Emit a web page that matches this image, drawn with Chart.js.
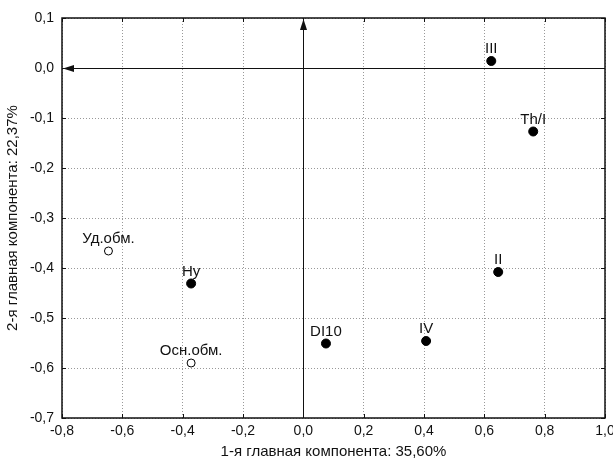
<!DOCTYPE html>
<html>
<head>
<meta charset="utf-8">
<script src="https://cdn.jsdelivr.net/npm/chart.js@4.4.1/dist/chart.umd.min.js"></script>
<style>
html, body { margin: 0; padding: 0; background: #fff; }
#wrap { width: 613px; height: 465px; position: relative; }
</style>
</head>
<body>
<div id="wrap"><canvas id="pcaChart"></canvas></div>
<script>
// component loadings, filled markers
var filledLabels = ['III', 'Th/I', 'II', 'Ну', 'DI10', 'IV'];
var filledX = [0.623, 0.762, 0.646, -0.372, 0.075, 0.407];
var filledY = [0.014, -0.127, -0.408, -0.431, -0.551, -0.546];

// hollow markers
var hollowLabels = ['Уд.обм.', 'Осн.обм.'];
var hollowX = [-0.646, -0.372];
var hollowY = [-0.366, -0.590];

var xTicks = [-0.8, -0.6, -0.4, -0.2, 0.0, 0.2, 0.4, 0.6, 0.8, 1.0];
var yTicks = [0.1, 0.0, -0.1, -0.2, -0.3, -0.4, -0.5, -0.6, -0.7];

var xTitle = '1-я главная компонента: 35,60%';
var yTitle = '2-я главная компонента: 22,37%';

var FONT = 'Arial, "Liberation Sans", sans-serif';

function toPoints(xs, ys, labels) {
    return xs.map(function (x, i) { return { x: x, y: ys[i], label: labels[i] }; });
}

function fmt(v) {
    return (Math.abs(v) < 1e-9 ? 0 : v).toFixed(1).replace('.', ',');
}

// frame, inner ticks and the two arrowed axes through zero
var axesPlugin = {
    id: 'axesPlugin',
    beforeDatasetsDraw: function (chart) {
        var ctx = chart.ctx, a = chart.chartArea;
        var xs = chart.scales.x, ys = chart.scales.y;
        ctx.save();
        ctx.strokeStyle = '#111';
        ctx.fillStyle = '#111';

        // small inward tick marks
        ctx.lineWidth = 1;
        ctx.beginPath();
        xTicks.forEach(function (v) {
            var px = Math.round(xs.getPixelForValue(v)) + 0.5;
            ctx.moveTo(px, a.top); ctx.lineTo(px, a.top + 4);
            ctx.moveTo(px, a.bottom); ctx.lineTo(px, a.bottom - 4);
        });
        yTicks.forEach(function (v) {
            var py = Math.round(ys.getPixelForValue(v)) + 0.5;
            ctx.moveTo(a.left, py); ctx.lineTo(a.left + 4, py);
            ctx.moveTo(a.right, py); ctx.lineTo(a.right - 4, py);
        });
        ctx.stroke();

        // horizontal axis, arrow pointing left
        var y0 = Math.round(ys.getPixelForValue(0)) + 0.5;
        var xl = xs.getPixelForValue(xs.min) + 1;
        ctx.beginPath();
        ctx.moveTo(a.right, y0);
        ctx.lineTo(xl + 6, y0);
        ctx.stroke();
        ctx.beginPath();
        ctx.moveTo(xl, y0);
        ctx.lineTo(xl + 11, y0 - 3.5);
        ctx.lineTo(xl + 11, y0 + 3.5);
        ctx.closePath();
        ctx.fill();

        // vertical axis, arrow pointing up
        var x0 = Math.round(xs.getPixelForValue(0)) + 0.5;
        var yt = ys.getPixelForValue(ys.max) + 1;
        ctx.beginPath();
        ctx.moveTo(x0, a.bottom);
        ctx.lineTo(x0, yt + 6);
        ctx.stroke();
        ctx.beginPath();
        ctx.moveTo(x0, yt);
        ctx.lineTo(x0 - 3.5, yt + 11);
        ctx.lineTo(x0 + 3.5, yt + 11);
        ctx.closePath();
        ctx.fill();

        // frame
        ctx.lineWidth = 1.5;
        ctx.strokeRect(a.left, a.top, a.right - a.left, a.bottom - a.top);
        ctx.restore();
    },
    afterDatasetsDraw: function (chart) {
        var ctx = chart.ctx;
        ctx.save();
        ctx.font = '15px ' + FONT;
        ctx.fillStyle = '#111';
        ctx.textAlign = 'center';
        ctx.textBaseline = 'alphabetic';
        chart.data.datasets.forEach(function (ds, di) {
            chart.getDatasetMeta(di).data.forEach(function (el, i) {
                ctx.fillText(ds.data[i].label, el.x, el.y - 8);
            });
        });
        ctx.restore();
    }
};

var ctx = document.getElementById('pcaChart').getContext('2d');

new Chart(ctx, {
    type: 'scatter',
    data: {
        datasets: [
            {
                data: toPoints(filledX, filledY, filledLabels),
                backgroundColor: '#000',
                borderColor: '#000',
                borderWidth: 1,
                pointRadius: 4.5
            },
            {
                data: toPoints(hollowX, hollowY, hollowLabels),
                backgroundColor: '#fff',
                borderColor: '#000',
                borderWidth: 1,
                pointRadius: 4
            }
        ]
    },
    options: {
        responsive: true,
        maintainAspectRatio: false,
        animation: false,
        events: [],
        layout: { padding: { top: 18, right: 8, left: 0, bottom: 0 } },
        plugins: {
            legend: { display: false },
            tooltip: { enabled: false }
        },
        scales: {
            x: {
                type: 'linear',
                min: -0.8,
                max: 1.0,
                afterBuildTicks: function (scale) {
                    scale.ticks = xTicks.map(function (v) { return { value: v }; });
                },
                afterFit: function (scale) {
                    scale.height = 47;
                    scale.paddingLeft = 0;
                    scale.paddingRight = 0;
                },
                border: { display: false, dash: [1, 2] },
                grid: { color: '#999', drawTicks: false },
                ticks: {
                    padding: 5,
                    color: '#111',
                    font: { family: FONT, size: 14 },
                    maxRotation: 0,
                    autoSkip: false,
                    callback: function (v) { return fmt(v); }
                },
                title: {
                    display: true,
                    text: xTitle,
                    color: '#111',
                    font: { family: FONT, size: 15 },
                    padding: { top: 0, bottom: 4 }
                }
            },
            y: {
                type: 'linear',
                min: -0.7,
                max: 0.1,
                afterBuildTicks: function (scale) {
                    scale.ticks = yTicks.map(function (v) { return { value: v }; });
                },
                afterFit: function (scale) {
                    scale.width = 62;
                    scale.paddingTop = 0;
                    scale.paddingBottom = 0;
                },
                border: { display: false, dash: [1, 2] },
                grid: { color: '#999', drawTicks: false },
                ticks: {
                    padding: 8,
                    color: '#111',
                    font: { family: FONT, size: 14 },
                    autoSkip: false,
                    callback: function (v) { return fmt(v); }
                },
                title: {
                    display: true,
                    text: yTitle,
                    color: '#111',
                    font: { family: FONT, size: 15 },
                    padding: { top: 4, bottom: 0 }
                }
            }
        }
    },
    plugins: [axesPlugin]
});
</script>
</body>
</html>
